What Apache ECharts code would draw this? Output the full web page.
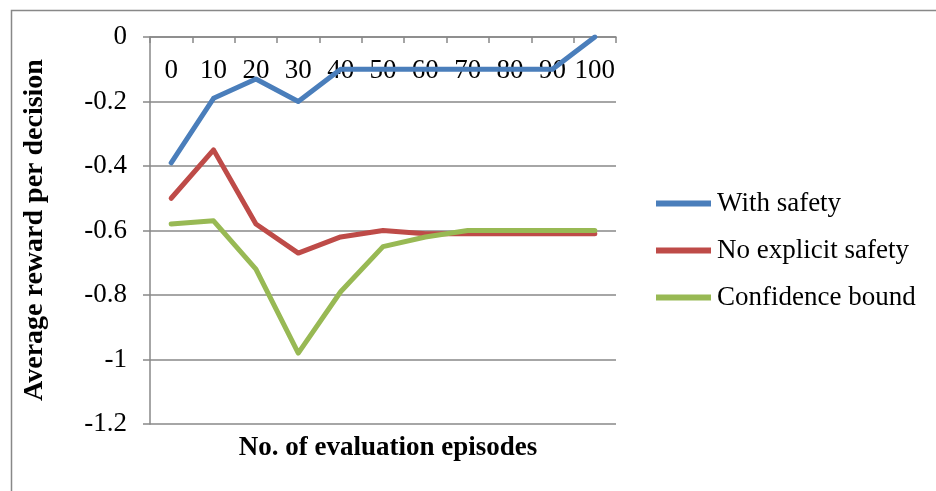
<!DOCTYPE html>
<html>
<head>
<meta charset="utf-8">
<script src="https://cdn.jsdelivr.net/npm/echarts@6/dist/echarts.min.js"></script>
<style>
  html, body { margin: 0; padding: 0; background: #fff; }
  #chart { width: 936px; height: 491px; }
</style>
</head>
<body>
<div id="chart"></div>
<script>
// Evaluation episodes (x categories)
var episodes = ['0', '10', '20', '30', '40', '50', '60', '70', '80', '90', '100'];

// Average reward per decision for each approach
var withSafety = [-0.39, -0.19, -0.13, -0.20, -0.10, -0.10, -0.10, -0.10, -0.10, -0.10, 0.00];
var noExplicitSafety = [-0.50, -0.35, -0.58, -0.67, -0.62, -0.60, -0.61, -0.61, -0.61, -0.61, -0.61];
var confidenceBound = [-0.58, -0.57, -0.72, -0.98, -0.79, -0.65, -0.62, -0.60, -0.60, -0.60, -0.60];

var seriesNames = ['With safety', 'No explicit safety', 'Confidence bound'];
var seriesColors = ['#4A7EBB', '#BE4B48', '#98B954'];

var serif = '"Liberation Serif", "DejaVu Serif", serif';
var gray = '#888888';
var fs = 27;

var chart = echarts.init(document.getElementById('chart'), null, { renderer: 'canvas' });

function lineSeries(name, data, color) {
  return {
    name: name,
    type: 'line',
    data: data,
    symbol: 'none',
    lineStyle: { width: 5, color: color, cap: 'round', join: 'round' },
    itemStyle: { color: color }
  };
}

chart.setOption({
  animation: false,
  backgroundColor: '#ffffff',
  grid: { left: 150, top: 37, width: 466, height: 387 },
  legend: {
    orient: 'vertical',
    left: 651,
    top: 185,
    itemGap: 20,
    itemWidth: 55,
    itemHeight: 8,
    icon: 'path://M0,0 L56,0 L56,6 L0,6 Z',
    textStyle: { fontFamily: serif, fontSize: fs, color: '#000', padding: [0, 0, 0, 1] },
    data: seriesNames
  },
  xAxis: {
    type: 'category',
    data: episodes,
    position: 'top',
    boundaryGap: true,
    axisLine: { onZero: false, lineStyle: { color: gray, width: 1.5 } },
    axisTick: { show: true, inside: true, length: 6, alignWithLabel: false, lineStyle: { color: gray, width: 1.5 } },
    axisLabel: { inside: true, margin: 20, fontFamily: serif, fontSize: fs, color: '#000', interval: 0 },
    splitLine: { show: false }
  },
  yAxis: {
    type: 'value',
    min: -1.2,
    max: 0,
    interval: 0.2,
    axisLine: { show: true, lineStyle: { color: gray, width: 1.5 } },
    axisTick: { show: true, length: 7, lineStyle: { color: gray, width: 1.5 } },
    axisLabel: {
      margin: 23,
      fontFamily: serif,
      fontSize: fs,
      color: '#000',
      formatter: function (v) {
        var r = Math.round(v * 10) / 10;
        return r === 0 ? '0' : String(r);
      }
    },
    splitLine: { show: true, lineStyle: { color: gray, width: 1.5 } }
  },
  title: [
    {
      text: 'No. of evaluation episodes',
      left: 383,
      top: 430,
      textAlign: 'center',
      textStyle: { fontFamily: serif, fontSize: fs, fontWeight: 'bold', color: '#000' }
    }
  ],
  graphic: [
    {
      type: 'rect',
      left: 9, top: 8,
      shape: { width: 1000, height: 1000 },
      style: { fill: 'none', stroke: gray, lineWidth: 1.5 },
      silent: true,
      z: -1
    },
    {
      type: 'text',
      x: 35, y: 230,
      rotation: Math.PI / 2,
      style: {
        text: 'Average reward per decision',
        fontFamily: serif,
        fontSize: 28,
        fontWeight: 'bold',
        fill: '#000',
        align: 'center',
        verticalAlign: 'middle'
      }
    }
  ],
  series: [
    lineSeries(seriesNames[0], withSafety, seriesColors[0]),
    lineSeries(seriesNames[1], noExplicitSafety, seriesColors[1]),
    lineSeries(seriesNames[2], confidenceBound, seriesColors[2])
  ]
});
</script>
</body>
</html>
